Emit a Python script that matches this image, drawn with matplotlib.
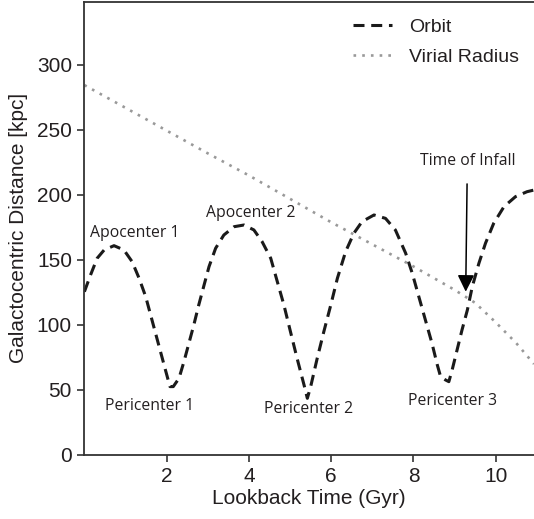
import matplotlib.pyplot as plt

# Orbit of the satellite: lookback time (Gyr) vs galactocentric distance (kpc)
orbit_t = [0.00, 0.15, 0.31, 0.48, 0.72, 0.96, 1.16, 1.33, 1.49, 1.61, 1.73,
           1.85, 1.97, 2.08, 2.16, 2.30, 2.42, 2.54, 2.66, 2.78, 2.91, 3.03,
           3.19, 3.39, 3.64, 3.88, 4.12, 4.32, 4.53, 4.69, 4.85, 5.01, 5.17,
           5.34, 5.42, 5.50, 5.66, 5.82, 5.99, 6.15, 6.35, 6.55, 6.75, 7.04,
           7.32, 7.56, 7.81, 7.97, 8.13, 8.29, 8.45, 8.58, 8.66, 8.78, 8.86,
           8.94, 9.06, 9.18, 9.31, 9.43, 9.59, 9.75, 9.95, 10.20, 10.48, 10.76,
           10.93]
orbit_r = [125.6, 138.5, 151.3, 157.7, 161.0, 157.7, 148.7, 135.9, 121.8, 107.7, 93.6,
           79.5, 65.4, 52.6, 52.6, 59.0, 71.8, 85.9, 100.0, 115.4, 130.8, 144.9,
           159.0, 169.2, 175.6, 176.9, 173.1, 164.1, 151.3, 133.3, 115.4, 94.8, 74.4,
           53.8, 43.6, 52.5, 74.4, 94.8, 115.4, 135.9, 156.4, 170.5, 179.5, 184.6,
           182.0, 173.1, 155.2, 139.8, 121.8, 103.8, 85.9, 69.2, 60.2, 57.7, 56.4,
           65.4, 80.8, 96.2, 111.5, 129.5, 147.4, 162.8, 178.2, 191.0, 198.7, 202.5,
           203.8]

# Virial radius of the host halo
virial_t = [0.0, 1.0, 2.0, 3.0, 4.0, 5.0, 6.0, 7.0, 8.0, 9.0, 9.5, 10.0, 10.5, 10.93]
virial_r = [284.5, 267.0, 249.5, 232.0, 215.0, 197.0, 179.0, 162.0, 145.0, 127.0,
            117.0, 102.0, 86.0, 70.0]

# Labels for the orbital turning points
event_names = ["Apocenter 1", "Apocenter 2", "Pericenter 1", "Pericenter 2", "Pericenter 3"]
event_t = [1.22, 4.04, 1.58, 5.44, 8.95]
event_r = [170.5, 186.4, 37.7, 35.1, 41.8]

infall_t = 9.27
infall_r = 125.6

plt.rcParams["font.family"] = ["Liberation Sans", "DejaVu Sans"]

fig = plt.figure(figsize=(5.34, 5.19), dpi=100)
ax = fig.add_axes([84.4 / 534, 64 / 519, 1 - 84.4 / 534, 453.5 / 519])

ax.plot(orbit_t, orbit_r, color="#1a1a1a", ls=(0, (3.6, 2.2)), lw=2.2, label="Orbit")
ax.plot(virial_t, virial_r, color="#999999", ls=(0, (1, 2.3)), lw=1.9, label="Virial Radius")

for name, t, r in zip(event_names, event_t, event_r):
    ax.text(t, r, name, ha="center", va="center", fontsize=11.3,
            family=["Open Sans", "DejaVu Sans"], color="#231f20")

ax.annotate("Time of Infall", xy=(infall_t, infall_r), xytext=(9.31, 226.4),
            ha="center", va="center", fontsize=11.3, family=["Open Sans", "DejaVu Sans"],
            color="#231f20",
            arrowprops=dict(arrowstyle="-|>,head_length=0.9,head_width=0.45",
                            color="black", lw=1.1, shrinkA=9, shrinkB=0))

ax.set_xlim(0, 10.93)
ax.set_ylim(0, 348.8)
ax.set_xticks([2, 4, 6, 8, 10])
ax.set_yticks([0, 50, 100, 150, 200, 250, 300])

ax.set_xlabel("Lookback Time (Gyr)", fontsize=15, labelpad=2, color="#231f20")
ax.set_ylabel("Galactocentric Distance [kpc]", fontsize=15, labelpad=6, color="#231f20")

ax.tick_params(axis="both", which="major", labelsize=15, length=5, width=1.2,
               color="#333333", labelcolor="#231f20", pad=4)
ax.spines["right"].set_visible(False)
for side in ["left", "bottom", "top"]:
    ax.spines[side].set_linewidth(1.3)
    ax.spines[side].set_color("#333333")

leg = ax.legend(loc="upper right", bbox_to_anchor=(1.008, 1.003), fontsize=14,
                frameon=False, handlelength=2.0, borderaxespad=0.55,
                labelspacing=0.6, handletextpad=0.9)
for txt in leg.get_texts():
    txt.set_color("#231f20")

fig.savefig("out.png", dpi=100)
